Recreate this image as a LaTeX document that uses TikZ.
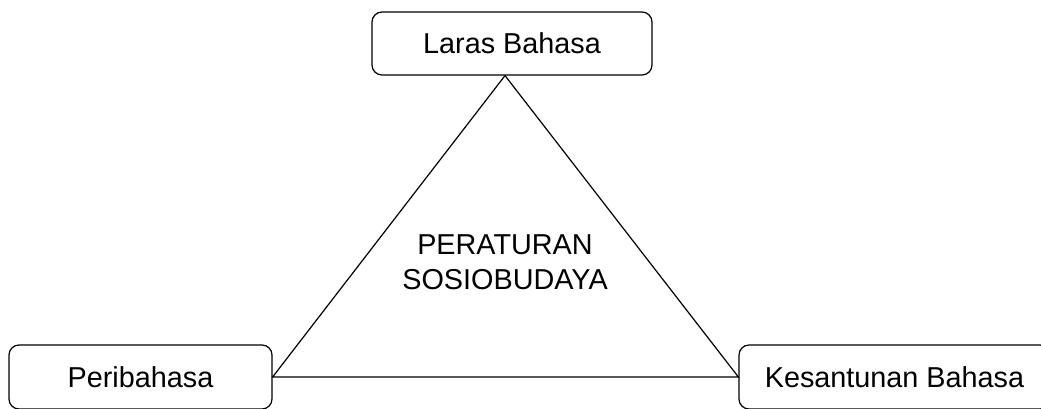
\documentclass[tikz,border=0pt]{standalone}
\usepackage{fontspec}
\setmainfont{Liberation Sans}
\begin{document}
\begin{tikzpicture}[x=1pt,y=-1pt,
  box/.style={draw,line width=1.2pt,rounded corners=10pt,inner sep=0pt,
    font=\fontsize{28.8}{35}\selectfont},
  link/.style={line width=1.2pt}]
\useasboundingbox (0,0) rectangle (1041,408);
\node[box,minimum width=280pt,minimum height=63pt] (laras) at (512,43.5) {Laras Bahasa};
\node[box,minimum width=263pt,minimum height=64pt] (peri) at (140.5,377) {Peribahasa};
\node[box,minimum width=311pt,minimum height=64pt] (kes) at (894.5,377) {Kesantunan Bahasa};
\node[align=center,inner sep=0pt,font=\fontsize{28.8}{35}\selectfont] (pera) at (505,262) {PERATURAN\\SOSIOBUDAYA};
\coordinate (apex) at ([xshift=-7pt]laras.south);
\draw[link] (apex) -- (peri.east) -- (kes.west) -- (apex);
\end{tikzpicture}
\end{document}
